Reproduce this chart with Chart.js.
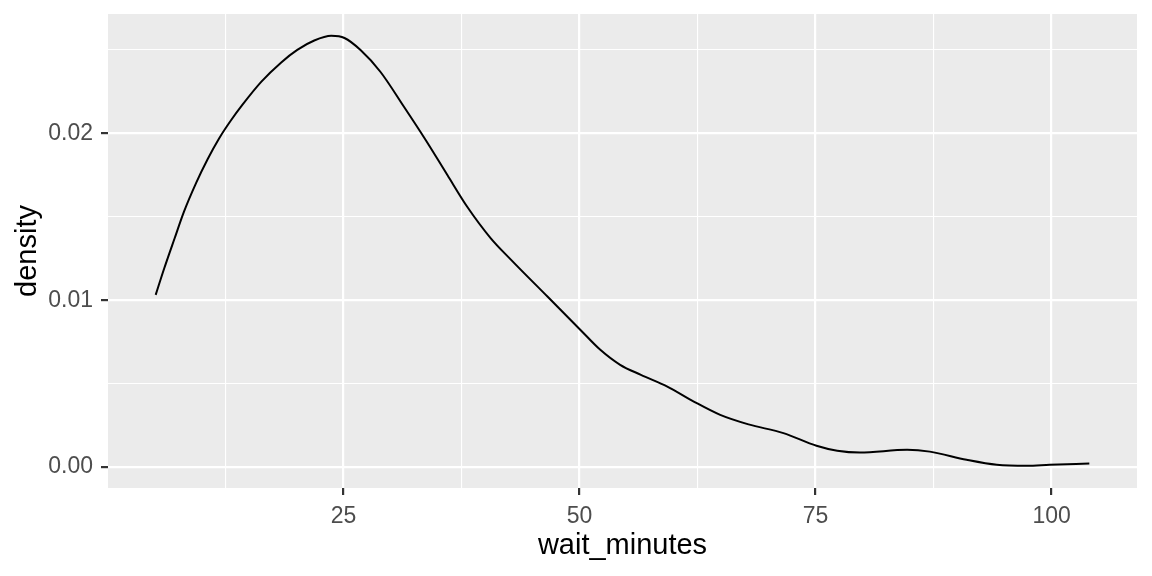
<!DOCTYPE html>
<html>
<head>
<meta charset="utf-8">
<script src="https://cdn.jsdelivr.net/npm/chart.js@4"></script>
<style>
  html, body { margin: 0; padding: 0; background: #FFFFFF; }
  #wrap { width: 1152px; height: 576px; position: relative; }
</style>
</head>
<body>
<div id="wrap"><canvas id="chart"></canvas></div>
<script>
const waitMinutes = [5.1, 6.0, 7.1, 8.1, 9.4, 10.6, 11.8, 13.1, 14.3, 16.3, 18.4, 20.1, 21.9, 23.7, 25.1,
  26.8, 28.9, 31.4, 33.7, 36.0, 38.1, 40.6, 42.7, 46.6, 50.1, 52.2, 54.3, 56.5, 59.3, 62.1, 64.9,
  67.9, 71.6, 75.1, 77.3, 79.7, 84.7, 87.1, 91.0, 94.2, 97.4, 99.8, 104.0];
const densityValues = [0.01032, 0.01190, 0.01370, 0.01531, 0.01705, 0.01845, 0.01968, 0.02080, 0.02172,
  0.02310, 0.02425, 0.02500, 0.02556, 0.02584, 0.02571, 0.02499, 0.02369, 0.02159, 0.01960, 0.01750,
  0.01560, 0.01371, 0.01245, 0.01022, 0.00822, 0.00703, 0.00613, 0.00553, 0.00483, 0.00393, 0.00313,
  0.00256, 0.00204, 0.00128, 0.00098, 0.00087, 0.00104, 0.00093, 0.00044, 0.00014, 0.00008, 0.00014,
  0.00022];

const xMajorTicks = [25, 50, 75, 100];
const xMinorTicks = [12.5, 37.5, 62.5, 87.5];
const yMajorTicks = [0, 0.01, 0.02];
const yMinorTicks = [0.005, 0.015, 0.025];

const FONT = '"Liberation Sans", Arial, sans-serif';

function isMajor(list, v) {
  return list.some(m => Math.abs(m - v) < 1e-9);
}

// fondo gris del panel (estilo ggplot)
const panelBg = {
  id: 'panelBg',
  beforeDraw(chart) {
    const { ctx, chartArea: a } = chart;
    ctx.save();
    ctx.fillStyle = '#FFFFFF';
    ctx.fillRect(0, 0, chart.width, chart.height);
    ctx.fillStyle = '#EBEBEB';
    ctx.fillRect(a.left, a.top, a.right - a.left, a.bottom - a.top);
    ctx.restore();
  }
};

const points = waitMinutes.map((x, i) => ({ x: x, y: densityValues[i] }));

new Chart(document.getElementById('chart'), {
  type: 'line',
  data: {
    datasets: [{
      data: points,
      borderColor: '#000000',
      borderWidth: 2,
      pointRadius: 0,
      fill: false,
      cubicInterpolationMode: 'monotone'
    }]
  },
  options: {
    responsive: true,
    maintainAspectRatio: false,
    animation: false,
    devicePixelRatio: 1,
    layout: { padding: { top: 14, right: 15, left: 0, bottom: 0 } },
    plugins: { legend: { display: false }, tooltip: { enabled: false } },
    scales: {
      x: {
        type: 'linear',
        min: 0.05,
        max: 109.05,
        afterBuildTicks: s => {
          s.ticks = xMajorTicks.concat(xMinorTicks).sort((a, b) => a - b).map(v => ({ value: v }));
        },
        afterFit: s => { s.height = 88; s.paddingLeft = 0; s.paddingRight = 0; },
        border: { display: false },
        grid: {
          color: '#FFFFFF',
          lineWidth: c => isMajor(xMajorTicks, c.tick.value) ? 2.2 : 1.1,
          tickColor: c => isMajor(xMajorTicks, c.tick.value) ? '#333333' : 'rgba(0,0,0,0)',
          tickWidth: 2.2,
          tickLength: 7,
          drawTicks: true
        },
        ticks: {
          autoSkip: false,
          maxRotation: 0,
          padding: 8,
          color: '#4D4D4D',
          font: { family: FONT, size: 23 },
          callback: v => isMajor(xMajorTicks, v) ? String(v) : ''
        },
        title: {
          display: true,
          text: 'wait_minutes',
          color: '#000000',
          font: { family: FONT, size: 29 },
          padding: { top: 0, bottom: 13 }
        }
      },
      y: {
        type: 'linear',
        min: -0.00125,
        max: 0.02715,
        afterBuildTicks: s => {
          s.ticks = yMajorTicks.concat(yMinorTicks).sort((a, b) => a - b).map(v => ({ value: v }));
        },
        afterFit: s => { s.width = 108; s.paddingTop = 0; s.paddingBottom = 0; },
        border: { display: false },
        grid: {
          color: '#FFFFFF',
          lineWidth: c => isMajor(yMajorTicks, c.tick.value) ? 2.2 : 1.1,
          tickColor: c => isMajor(yMajorTicks, c.tick.value) ? '#333333' : 'rgba(0,0,0,0)',
          tickWidth: 2.2,
          tickLength: 7,
          drawTicks: true
        },
        ticks: {
          autoSkip: false,
          padding: 8,
          color: '#4D4D4D',
          font: { family: FONT, size: 23 },
          callback: v => isMajor(yMajorTicks, v) ? v.toFixed(2) : ''
        },
        title: {
          display: true,
          text: 'density',
          color: '#000000',
          font: { family: FONT, size: 29 },
          padding: { top: 11, bottom: 0 }
        }
      }
    }
  },
  plugins: [panelBg]
});
</script>
</body>
</html>
